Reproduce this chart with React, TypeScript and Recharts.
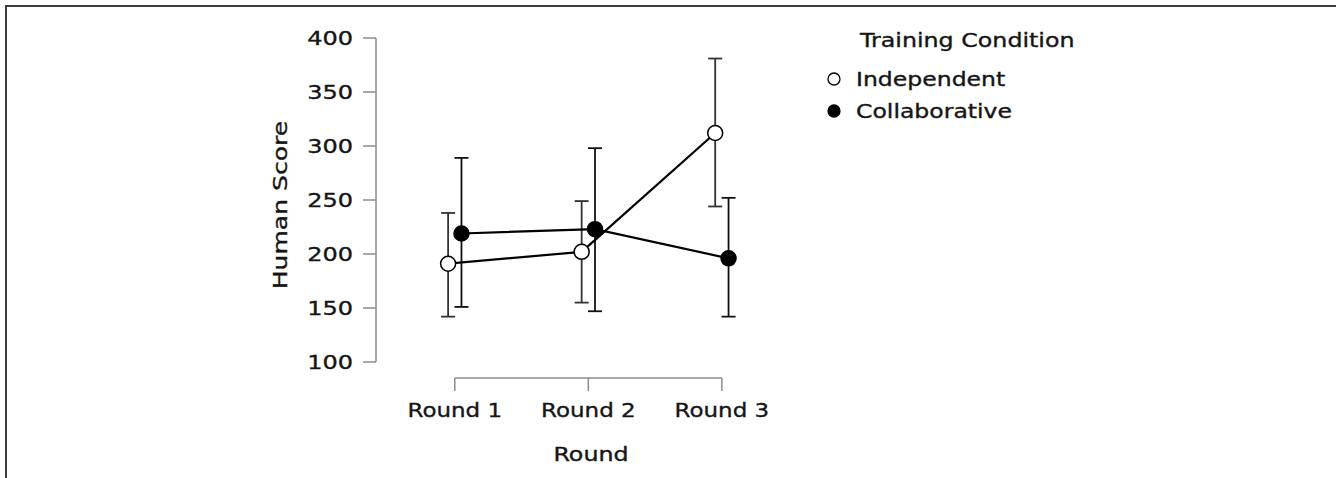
import React from 'react';
import { ScatterChart, Scatter, XAxis, YAxis, ErrorBar, ReferenceLine, Legend } from 'recharts';

const rounds = ['Round 1', 'Round 2', 'Round 3'];
const roundIndex = [1, 2, 3];
const seriesNames = ['Independent', 'Collaborative'];
const independentMean = [191, 202, 312];
const independentLower = [142, 155, 244];
const independentUpper = [238, 249, 381];
const collaborativeMean = [219, 223, 196];
const collaborativeLower = [151, 147, 142];
const collaborativeUpper = [289, 298, 252];
const yTicks = [100, 150, 200, 250, 300, 350, 400];

const DODGE = 0.05;
const FONT = '"DejaVu Sans", sans-serif';
const TEXT = '#151515';
const AXIS = '#8c8c8c';
const TS = { stroke: TEXT, strokeWidth: 0.35 };

const build = (mean: number[], lo: number[], hi: number[], shift: number) =>
  roundIndex.map((r, i) => ({ x: r + shift, y: mean[i], err: [mean[i] - lo[i], hi[i] - mean[i]] }));

const independentData = build(independentMean, independentLower, independentUpper, -DODGE);
const collaborativeData = build(collaborativeMean, collaborativeLower, collaborativeUpper, DODGE);

const XTick = (props: any) => {
  const { x, y, payload } = props;
  const label = rounds[roundIndex.indexOf(payload.value)];
  return (
    <g>
      <line x1={x} x2={x} y1={y + 16} y2={y + 29} stroke={AXIS} strokeWidth={1.5} />
      <text
        transform={`translate(${x},${y + 55}) scale(1.15,1)`}
        textAnchor="middle"
        fontSize={20}
        fontFamily={FONT}
        fill={TEXT}
        {...TS}
      >
        {label}
      </text>
    </g>
  );
};

const YTick = (props: any) => {
  const { x, y, payload } = props;
  return (
    <text
      transform={`translate(${x},${y}) scale(1.2,1)`}
      textAnchor="end"
      dy="0.36em"
      fontSize={20}
      fontFamily={FONT}
      fill={TEXT}
      {...TS}
    >
      {payload.value}
    </text>
  );
};

const OpenDot = (props: any) => (
  <circle cx={props.cx} cy={props.cy} r={7.5} fill="#fff" stroke="#000" strokeWidth={1.5} />
);
const FilledDot = (props: any) => (
  <circle cx={props.cx} cy={props.cy} r={7.5} fill="#000" stroke="#000" strokeWidth={1.5} />
);

const LegendContent = () => (
  <svg width={300} height={110} style={{ overflow: 'visible' }}>
    <text transform="translate(30,27) scale(1.25,1)" fontSize={19} fontFamily={FONT} fill={TEXT} {...TS}>
      Training Condition
    </text>
    <circle cx={4} cy={59} r={6} fill="#fff" stroke="#000" strokeWidth={1.3} />
    <text transform="translate(26,66) scale(1.24,1)" fontSize={19} fontFamily={FONT} fill={TEXT} {...TS}>
      {seriesNames[0]}
    </text>
    <circle cx={4} cy={91} r={6} fill="#000" stroke="#000" strokeWidth={1.3} />
    <text transform="translate(26,98) scale(1.24,1)" fontSize={19} fontFamily={FONT} fill={TEXT} {...TS}>
      {seriesNames[1]}
    </text>
  </svg>
);

export default function App() {
  return (
    <div style={{ position: 'absolute', left: 0, top: 0, width: 1336, height: 478, background: '#fff' }}>
      <div
        style={{
          position: 'absolute',
          left: 5,
          top: 5,
          width: 1331,
          height: 473,
          borderTop: '2px solid #3c3c3c',
          borderLeft: '2px solid #3c3c3c',
          boxSizing: 'border-box',
        }}
      />
      <div style={{ position: 'absolute', left: 0, top: 0 }}>
        <ScatterChart width={1336} height={478} margin={{ top: 38, right: 534, bottom: 0, left: 266 }}>
          <XAxis
            type="number"
            dataKey="x"
            domain={[0.41, 3.6]}
            ticks={roundIndex}
            axisLine={false}
            tickLine={false}
            tickSize={0}
            tickMargin={0}
            height={116}
            tick={<XTick />}
            label={{
              content: (p: any) => {
                const vb = p.viewBox;
                return (
                  <text
                    transform={`translate(${vb.x + vb.width / 2 + 2},${vb.y + 99}) scale(1.25,1)`}
                    textAnchor="middle"
                    fontSize={19}
                    fontFamily={FONT}
                    fill={TEXT}
                    {...TS}
                  >
                    Round
                  </text>
                );
              },
            }}
          />
          <YAxis
            type="number"
            dataKey="y"
            domain={[100, 400]}
            ticks={yTicks}
            width={110}
            stroke={AXIS}
            axisLine={{ stroke: AXIS, strokeWidth: 1.5 }}
            tickLine={{ stroke: AXIS, strokeWidth: 1.5 }}
            tickSize={13}
            tickMargin={10}
            tick={<YTick />}
            label={{
              content: (p: any) => {
                const vb = p.viewBox;
                return (
                  <text
                    transform={`translate(${vb.x + 21},${vb.y + vb.height / 2 + 5}) rotate(-90) scale(1.32,1)`}
                    textAnchor="middle"
                    fontSize={19}
                    fontFamily={FONT}
                    fill={TEXT}
                    {...TS}
                  >
                    Human Score
                  </text>
                );
              },
            }}
          />
          <ReferenceLine
            segment={[
              { x: roundIndex[0], y: 85.2 },
              { x: roundIndex[roundIndex.length - 1], y: 85.2 },
            ]}
            ifOverflow="visible"
            stroke={AXIS}
            strokeWidth={1.5}
          />
          <Legend
            layout="horizontal"
            verticalAlign="middle"
            align="center"
            wrapperStyle={{ position: 'absolute', left: 830, top: 20, width: 300, height: 110 }}
            content={<LegendContent />}
          />
          <Scatter
            name={seriesNames[1]}
            data={collaborativeData}
            line={{ stroke: '#000', strokeWidth: 2.2 }}
            lineType="joint"
            shape={<FilledDot />}
            isAnimationActive={false}
          >
            <ErrorBar dataKey="err" direction="y" width={7} stroke="#111" strokeWidth={1.8} isAnimationActive={false} />
          </Scatter>
          <Scatter
            name={seriesNames[0]}
            data={independentData}
            line={{ stroke: '#000', strokeWidth: 2.2 }}
            lineType="joint"
            shape={<OpenDot />}
            isAnimationActive={false}
          >
            <ErrorBar dataKey="err" direction="y" width={7} stroke="#333" strokeWidth={1.8} isAnimationActive={false} />
          </Scatter>
        </ScatterChart>
      </div>
    </div>
  );
}
